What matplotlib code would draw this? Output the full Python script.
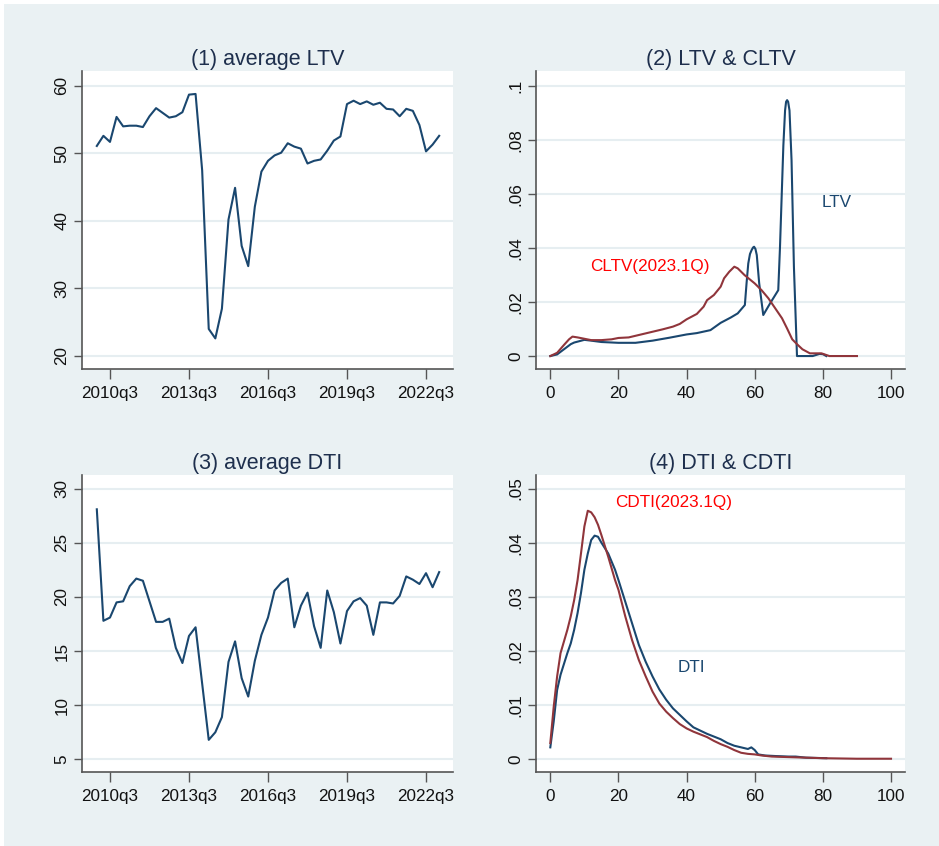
import numpy as np
import matplotlib
matplotlib.use("Agg")
import matplotlib.pyplot as plt
from matplotlib.patches import Rectangle

plt.rcParams['font.family'] = ['Liberation Sans', 'DejaVu Sans']

NAVY = '#1A476F'
MAROON = '#90353B'
BG = '#EAF1F3'
GRID = '#E6EEF1'
AXCOL = '#555555'
TITLECOL = '#1E2F4D'

# quarterly averages, 2010q1 - 2023q1
quarters = [f"{y}q{q}" for y in range(2010, 2024) for q in range(1, 5)][:53]
avg_ltv = [51.1, 52.6, 51.7, 55.4, 54.0, 54.1, 54.1, 53.9, 55.5, 56.7,
           56.0, 55.3, 55.5, 56.1, 58.7, 58.8, 47.5, 24.0, 22.6, 27.0,
           40.2, 44.9, 36.3, 33.3, 42.1, 47.3, 48.9, 49.7, 50.1, 51.5,
           51.0, 50.7, 48.5, 48.9, 49.1, 50.4, 51.9, 52.5, 57.3, 57.8,
           57.3, 57.7, 57.2, 57.5, 56.6, 56.5, 55.5, 56.6, 56.3, 54.2,
           50.3, 51.3, 52.6]
avg_dti = [28.1, 17.8, 18.1, 19.5, 19.6, 21.0, 21.7, 21.5, 19.6, 17.7,
           17.7, 18.0, 15.3, 13.9, 16.4, 17.2, 12.0, 6.8, 7.5, 8.9,
           14.0, 15.9, 12.5, 10.8, 14.1, 16.5, 18.1, 20.6, 21.3, 21.7,
           17.2, 19.2, 20.4, 17.3, 15.3, 20.6, 18.6, 15.7, 18.7, 19.6,
           19.9, 19.2, 16.5, 19.5, 19.5, 19.4, 20.1, 21.9, 21.6, 21.2,
           22.2, 20.9, 22.3]
qtick_labels = ["2010q3", "2013q3", "2016q3", "2019q3", "2022q3"]

# kernel densities of LTV / CLTV
ltv_x = [0, 2, 4, 6, 7, 10, 12, 15, 20, 25, 30, 35, 40, 43, 47, 50, 53, 55,
         57.1, 57.6, 58.1, 58.6, 59.1, 59.5, 59.8, 60.2, 60.6, 61.3, 62.5,
         64.5, 66.9, 67.4, 67.9, 68.4, 68.9, 69.2, 69.5, 69.8, 70.2, 70.8,
         71.5, 72.4, 77, 79, 80, 81]
ltv_y = [0, .0006, .0025, .0044, .005, .006, .0057, .0052, .0049, .0049,
         .0057, .0068, .008, .0085, .0096, .0123, .0143, .0158,
         .0189, .027, .0343, .0378, .0393, .0402, .0405, .0397, .0374,
         .027, .0152, .0195, .0244, .040, .059, .078, .091, .0942, .0948,
         .0942, .091, .0726, .033, 0, 0, .0008, .0007, 0]
cltv_x = [0, 2, 4, 5.5, 6.5, 8, 10, 12, 15, 18, 20, 23, 25, 28, 30, 33, 36,
          38, 40, 43, 45, 46, 48, 50, 51, 52.5, 54, 55, 57, 60, 62, 64, 66,
          68, 69.5, 71, 72.4, 74, 76.2, 79.6, 81.9, 90]
cltv_y = [0, .0012, .0041, .0062, .0072, .0069, .0064, .0059, .0059, .0062,
          .0067, .0069, .0075, .0084, .009, .0099, .0109, .0119, .0136,
          .0156, .0183, .0207, .0226, .0257, .0288, .0312, .0331, .0325,
          .030, .0269, .0244, .0214, .0177, .014, .0102, .0062, .0044,
          .0025, .001, .001, 0, 0]

# kernel densities of DTI / CDTI
dti_x = [0, 1, 2, 3, 5, 6, 7, 8, 9, 10, 11, 12, 13, 14, 15, 17, 19, 20, 22,
         24, 26, 28, 30, 32, 34, 36, 38, 40, 42, 44, 46, 48, 50, 52, 54, 56,
         58, 59, 60, 61, 63, 66, 70, 72, 75, 81]
dti_y = [.0022, .007, .0128, .0156, .0196, .0214, .0239, .027, .0307, .035,
         .038, .0405, .0413, .0411, .040, .038, .035, .0331, .0291, .0251,
         .0211, .018, .0153, .0129, .011, .0094, .0082, .007, .0059, .0053,
         .0047, .0042, .0037, .003, .0025, .0022, .0019, .0022, .0017,
         .0009, .0007, .0006, .0005, .0005, .0003, .0002]
cdti_x = [0, 1, 2, 3, 5, 6, 7, 8, 9, 10, 11, 12, 13, 14, 15, 17, 19, 20, 22,
          24, 26, 28, 30, 32, 34, 36, 38, 40, 42, 44, 46, 48, 50, 52, 54, 56,
          58, 60, 62, 65, 70, 80, 90, 100]
cdti_y = [.003, .0097, .0153, .0196, .0239, .0264, .0294, .0331, .038, .043,
          .0459, .0456, .0447, .0433, .0414, .0374, .0331, .0313, .0264,
          .022, .0183, .0153, .0125, .0103, .0088, .0076, .0065, .0057,
          .0051, .0046, .0041, .0034, .0028, .0023, .0017, .0012, .001,
          .0009, .0007, .0005, .0004, .0002, .0001, .0001]

W, H = 939, 846
fig = plt.figure(figsize=(W / 100, H / 100), dpi=100, facecolor='white')
fig.patches.append(Rectangle((4 / W, 0), 1 - 4 / W, 1 - 4 / H,
                             transform=fig.transFigure, facecolor=BG,
                             edgecolor='none', zorder=-10))


def make_ax(left, right, top, bottom):
    ax = fig.add_axes([left / W, 1 - bottom / H, (right - left) / W,
                       (bottom - top) / H])
    ax.set_facecolor('white')
    for s in ('top', 'right'):
        ax.spines[s].set_visible(False)
    for s in ('left', 'bottom'):
        ax.spines[s].set_color(AXCOL)
        ax.spines[s].set_linewidth(1.2)
    ax.tick_params(axis='x', length=7, width=1, color=AXCOL, pad=5,
                   labelsize=12.3, labelcolor='#111111')
    ax.tick_params(axis='y', length=6, width=1, color=AXCOL, pad=3,
                   labelsize=12.3, labelcolor='#111111')
    ax.grid(axis='y', color=GRID, linewidth=1.5)
    ax.set_axisbelow(True)
    return ax


def yticks(ax, vals, labels):
    ax.set_yticks(vals)
    ax.set_yticklabels(labels, rotation=90, va='center')


qx = np.arange(len(quarters))
qticks = [quarters.index(q) for q in qtick_labels]

# (1) average LTV
ax1 = make_ax(82, 453, 71, 369)
ax1.plot(qx, avg_ltv, color=NAVY, lw=1.5)
ax1.set_xlim(-2.25, 54.1)
ax1.set_ylim(18.07, 62.2)
ax1.set_xticks(qticks)
ax1.set_xticklabels(qtick_labels)
yticks(ax1, [20, 30, 40, 50, 60], ['20', '30', '40', '50', '60'])
ax1.set_title('(1) average LTV', fontsize=15.5, color=TITLECOL, pad=4)

# (2) LTV & CLTV
ax2 = make_ax(536, 905, 71, 369)
ax2.plot(ltv_x, ltv_y, color=NAVY, lw=1.5)
ax2.plot(cltv_x, cltv_y, color=MAROON, lw=1.5)
ax2.set_xlim(-4.2, 104.1)
ax2.set_ylim(-0.0048, 0.1056)
ax2.set_xticks([0, 20, 40, 60, 80, 100])
yticks(ax2, [0, .02, .04, .06, .08, .1], ['0', '.02', '.04', '.06', '.08', '.1'])
ax2.text(84.1, .0567, 'LTV', color=NAVY, fontsize=12.3, ha='center', va='center')
ax2.text(29.2, .0331, 'CLTV(2023.1Q)', color='#FF0000', fontsize=12.3,
         ha='center', va='center')
ax2.set_title('(2) LTV & CLTV', fontsize=15.5, color=TITLECOL, pad=4)

# (3) average DTI
ax3 = make_ax(82, 453, 475, 772)
ax3.plot(qx, avg_dti, color=NAVY, lw=1.5)
ax3.set_xlim(-2.25, 54.1)
ax3.set_ylim(3.83, 31.27)
ax3.set_xticks(qticks)
ax3.set_xticklabels(qtick_labels)
yticks(ax3, [5, 10, 15, 20, 25, 30], ['5', '10', '15', '20', '25', '30'])
ax3.set_title('(3) average DTI', fontsize=15.5, color=TITLECOL, pad=4)

# (4) DTI & CDTI
ax4 = make_ax(536, 905, 475, 772)
ax4.plot(dti_x, dti_y, color=NAVY, lw=1.5)
ax4.plot(cdti_x, cdti_y, color=MAROON, lw=1.5)
ax4.set_xlim(-4.2, 104.1)
ax4.set_ylim(-0.00235, 0.0525)
ax4.set_xticks([0, 20, 40, 60, 80, 100])
yticks(ax4, [0, .01, .02, .03, .04, .05], ['0', '.01', '.02', '.03', '.04', '.05'])
ax4.text(36.3, .0474, 'CDTI(2023.1Q)', color='#FF0000', fontsize=12.3,
         ha='center', va='center')
ax4.text(41.5, .017, 'DTI', color=NAVY, fontsize=12.3, ha='center', va='center')
ax4.set_title('(4) DTI & CDTI', fontsize=15.5, color=TITLECOL, pad=4)

fig.savefig('out.png', dpi=100)
